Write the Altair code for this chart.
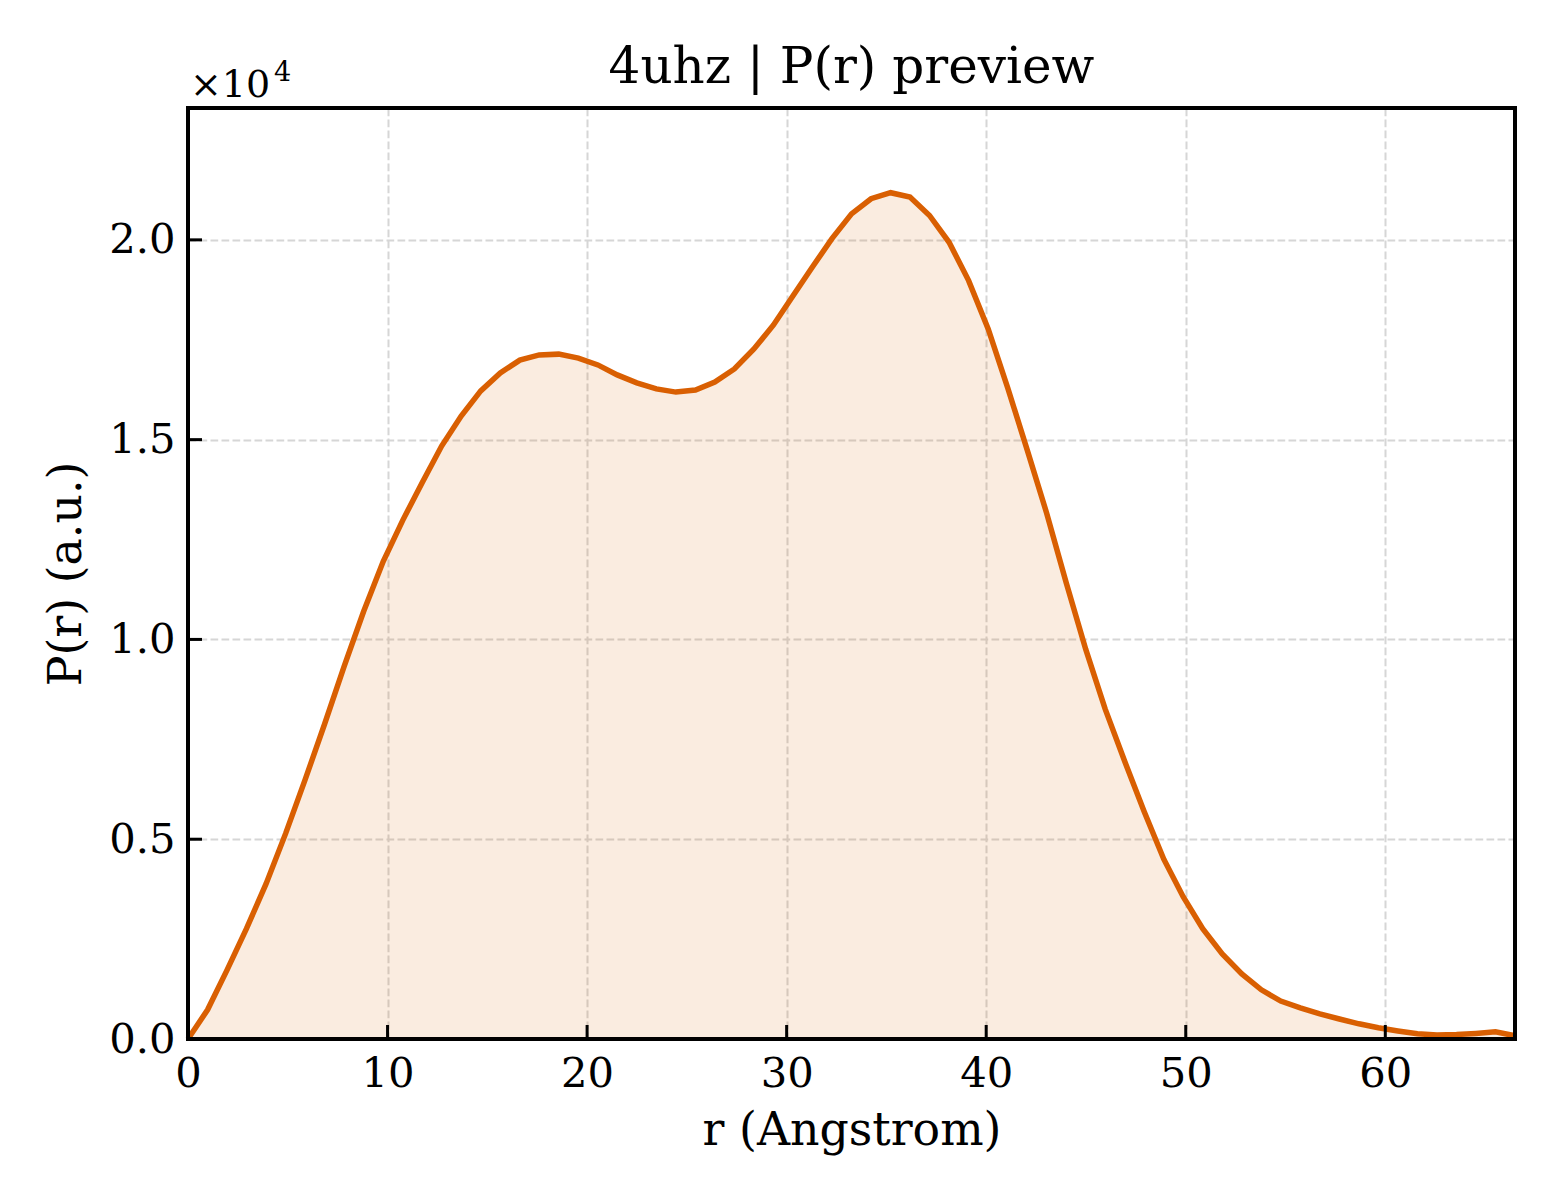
import altair as alt
import pandas as pd

r_values = [
    0.00, 0.98, 1.96, 2.93, 3.91, 4.89, 5.87, 6.85, 7.82, 8.80,
    9.78, 10.76, 11.74, 12.71, 13.69, 14.67, 15.65, 16.63, 17.60, 18.58,
    19.56, 20.54, 21.51, 22.49, 23.47, 24.45, 25.43, 26.40, 27.38, 28.36,
    29.34, 30.32, 31.29, 32.27, 33.25, 34.23, 35.21, 36.18, 37.16, 38.14,
    39.12, 40.10, 41.07, 42.05, 43.03, 44.01, 44.99, 45.96, 46.94, 47.92,
    48.90, 49.87, 50.85, 51.83, 52.81, 53.79, 54.76, 55.74, 56.72, 57.70,
    58.68, 59.65, 60.63, 61.61, 62.59, 63.57, 64.54, 65.52, 66.50,
]
p_values = [
    0, 730, 1730, 2760, 3880, 5140, 6490, 7890, 9320, 10700,
    11950, 12980, 13930, 14840, 15590, 16220, 16670, 16990, 17120, 17140,
    17040, 16870, 16620, 16420, 16270, 16190, 16240, 16440, 16770, 17270,
    17870, 18600, 19320, 20030, 20650, 21030, 21180, 21070, 20610, 19940,
    18980, 17770, 16310, 14750, 13160, 11420, 9750, 8260, 6950, 5690,
    4500, 3560, 2760, 2130, 1630, 1230, 950, 780, 630, 500,
    380, 280, 200, 130, 100, 110, 140, 180, 80,
]
x_ticks = [0, 10, 20, 30, 40, 50, 60]
y_ticks = [0, 5000, 10000, 15000, 20000]

ORANGE = "#d95f02"
FONT = "DejaVu Serif"
W, H = 1327, 931

df = pd.DataFrame({"r": r_values, "p": p_values})
one = pd.DataFrame({"k": [0]})
xs = alt.Scale(domain=[0, 66.5], nice=False, zero=False)
ys = alt.Scale(domain=[0, 23300], nice=False)

x_enc = alt.X("r:Q", scale=xs, title="r (Angstrom)",
              axis=alt.Axis(values=x_ticks, format="d"))
y_enc = alt.Y("p:Q", scale=ys, title="P(r) (a.u.)",
              axis=alt.Axis(values=y_ticks,
                            labelExpr="format(datum.value / 10000, '.1f')"))

area = alt.Chart(df).mark_area(color=ORANGE, fillOpacity=0.12).encode(x=x_enc, y=y_enc)
line = alt.Chart(df).mark_line(color=ORANGE, strokeWidth=5.5).encode(x="r:Q", y="p:Q")

# inward ticks (matplotlib style)
xt = alt.Chart(pd.DataFrame({"r": x_ticks})).mark_rule(color="black", strokeWidth=3).encode(
    x=alt.X("r:Q", scale=xs), y=alt.value(H), y2=alt.value(H - 14))
yt = alt.Chart(pd.DataFrame({"p": y_ticks})).mark_rule(color="black", strokeWidth=3).encode(
    y=alt.Y("p:Q", scale=ys), x=alt.value(0), x2=alt.value(14))

# spines drawn on top of everything
def spine(x1, y1, x2, y2):
    return alt.Chart(one).mark_rule(color="black", strokeWidth=4, strokeCap="square").encode(
        x=alt.value(x1), y=alt.value(y1), x2=alt.value(x2), y2=alt.value(y2))

spines = spine(0, 0, 0, H) + spine(W, 0, W, H) + spine(0, 0, W, 0) + spine(0, H, W, H)

def label(text, size, x, y, align="left"):
    return alt.Chart(pd.DataFrame({"t": [text]})).mark_text(
        font=FONT, fontSize=size, align=align, baseline="alphabetic", color="black"
    ).encode(text="t:N", x=alt.value(x), y=alt.value(y))

offset_text = label("×10", 38, 2, -11) + label("4", 27, 86, -27)
title = label("4uhz | P(r) preview", 50, W / 2, -25, align="center")

chart = (area + line + xt + yt + spines + offset_text + title).properties(
    width=W, height=H,
    autosize=alt.AutoSizeParams(type="none"),
    padding={"left": 180, "top": 100, "right": 30, "bottom": 150},
).configure_view(
    strokeWidth=0
).configure_axis(
    labelFont=FONT, labelFontSize=41.7, labelColor="black",
    titleFont=FONT, titleFontSize=45.8, titleFontWeight="normal", titleColor="black",
    grid=True, gridColor="#d6d6d6", gridDash=[7.7, 3.3], gridWidth=2,
    domain=False, ticks=False,
).configure_axisX(
    labelPadding=14, titlePadding=14, labelFlush=False,
).configure_axisY(
    labelPadding=13, titlePadding=18, labelFlush=False,
)

chart.save("out.html", embed_options={"renderer": "svg", "actions": False})
